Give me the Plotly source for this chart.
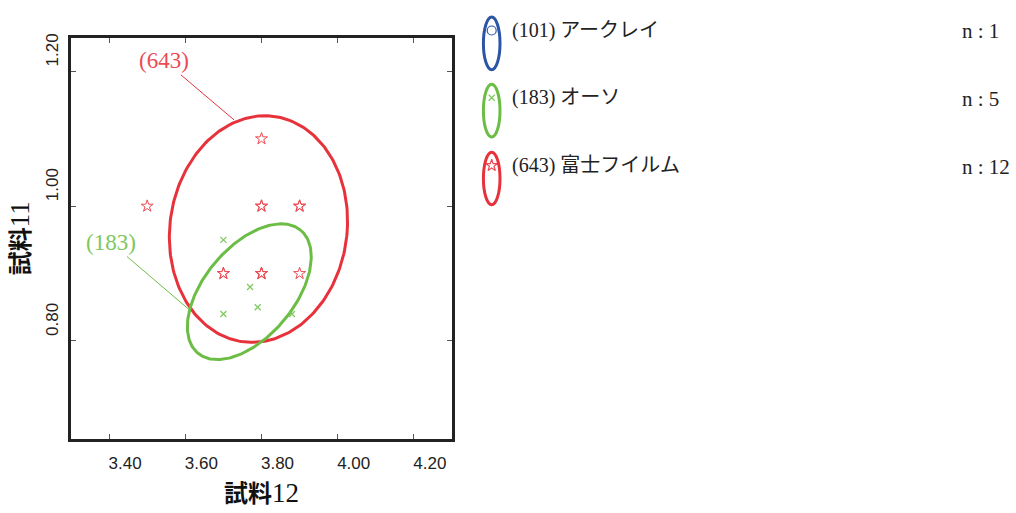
import numpy as np
import plotly.graph_objects as go

# ---- data -------------------------------------------------------------
# sample (183) オーソ : 試料12 vs 試料11
x_183 = [3.70, 3.77, 3.79, 3.70, 3.88]
y_183 = [0.95, 0.88, 0.85, 0.84, 0.84]

# sample (643) 富士フイルム : 12 readings, several coincide
x_643 = [3.50, 3.80, 3.80, 3.90, 3.70, 3.80, 3.90, 3.80, 3.80, 3.70, 3.80, 3.90]
y_643 = [1.00, 1.10, 1.00, 1.00, 0.90, 0.90, 0.90, 1.00, 0.90, 0.90, 0.90, 1.00]

# ellipse: centre, first and second conjugate semi-diameters (data units)
ell_643_center = [3.792, 0.966]
ell_643_a = [0.2338, 0.0071]
ell_643_b = [0.0068, 0.168]

ell_183_center = [3.768, 0.873]
ell_183_a = [0.1349, 0.0913]
ell_183_b = [-0.0908, 0.0426]

# legend rows
legend_names = ["(101) アークレイ", "(183) オーソ", "(643) 富士フイルム"]
legend_counts = [1, 5, 12]

x_ticks = [3.40, 3.60, 3.80, 4.00, 4.20]
y_ticks = [0.80, 1.00, 1.20]

# ---- styling ------------------------------------------------------------
BLUE = "#2b55a6"
GREEN = "#6cbd45"
RED = "#e8323b"
GREEN_PT = "#7cc85c"
RED_PT = "#ec4b55"
legend_colors = [BLUE, GREEN, RED]
legend_symbols = ["circle-open", "x-thin-open", "star-open"]
legend_sizes = [9, 6, 9]

SERIF = "Liberation Serif, Noto Sans CJK JP"
SANS = "Liberation Sans, Arial, sans-serif"

W, H = 1016, 513
# plot frame in pixels
PL, PR, PT, PB = 71, 452, 34, 438


def ellipse_path(center, a, b, n=240):
    t = np.linspace(0, 2 * np.pi, n)
    xs = center[0] + a[0] * np.cos(t) + b[0] * np.sin(t)
    ys = center[1] + a[1] * np.cos(t) + b[1] * np.sin(t)
    return xs, ys


fig = go.Figure()

for center, a, b, col in [
    (ell_643_center, ell_643_a, ell_643_b, RED),
    (ell_183_center, ell_183_a, ell_183_b, GREEN),
]:
    ex, ey = ellipse_path(center, a, b)
    fig.add_trace(go.Scatter(x=ex, y=ey, mode="lines",
                             line=dict(color=col, width=3),
                             hoverinfo="skip", showlegend=False))

fig.add_trace(go.Scatter(x=x_643, y=y_643, mode="markers",
                         marker=dict(symbol="star-open", size=9, color=RED_PT,
                                     line=dict(width=1, color=RED_PT)),
                         showlegend=False))
fig.add_trace(go.Scatter(x=x_183, y=y_183, mode="markers",
                         marker=dict(symbol="x-thin-open", size=6, color=GREEN_PT,
                                     line=dict(width=1.2, color=GREEN_PT)),
                         showlegend=False))

# ---- legend drawn on a full-figure pixel axis ---------------------------
row_y = [39.7, 107.5, 175.8]
icon_x = 491.7
for i, (name, n) in enumerate(zip(legend_names, legend_counts)):
    cy = row_y[i]
    fig.add_shape(type="circle", xref="x2", yref="y2",
                  x0=icon_x - 8.3, x1=icon_x + 8.3, y0=cy - 26.5, y1=cy + 26.5,
                  line=dict(color=legend_colors[i], width=3))
    fig.add_trace(go.Scatter(x=[icon_x], y=[cy - 13], xaxis="x2", yaxis="y2",
                             mode="markers",
                             marker=dict(symbol=legend_symbols[i], size=legend_sizes[i],
                                         color=legend_colors[i] if i == 0 else
                                         (GREEN_PT if i == 1 else RED_PT),
                                         line=dict(width=1.2)),
                             hoverinfo="skip", showlegend=False))
    fig.add_annotation(x=510, y=cy - 13, xref="x2", yref="y2", text=name,
                       showarrow=False, xanchor="left", yanchor="middle",
                       font=dict(family=SERIF, size=20, color="#222"))
    fig.add_annotation(x=960, y=cy - 12, xref="x2", yref="y2",
                       text=f"n : {n}",
                       showarrow=False, xanchor="left", yanchor="middle",
                       font=dict(family=SERIF, size=21, color="#222"))

# ---- ellipse labels with leader lines -----------------------------------
fig.add_annotation(x=3.728, y=1.128, ax=3.545, ay=1.2157, xref="x", yref="y",
                   axref="x", ayref="y", text="(643)", showarrow=True,
                   arrowhead=0, arrowwidth=1, arrowcolor=RED,
                   font=dict(family=SERIF, size=23, color=RED_PT))
fig.add_annotation(x=3.609, y=0.847, ax=3.404, ay=0.946, xref="x", yref="y",
                   axref="x", ayref="y", text="(183)", showarrow=True,
                   arrowhead=0, arrowwidth=1, arrowcolor=GREEN,
                   font=dict(family=SERIF, size=23, color=GREEN_PT))

axis_common = dict(showgrid=False, zeroline=False, showline=True, linewidth=3,
                   linecolor="#222", mirror="ticks", ticks="inside", ticklen=5,
                   tickwidth=1, tickcolor="#555",
                   tickfont=dict(family=SANS, size=17, color="#222"))

title_x = "<b>試料</b><span style='font-size:27px'>12</span>"
title_y = "<b>試料</b><span style='font-size:27px'>11</span>"

fig.update_layout(
    width=W, height=H,
    margin=dict(l=0, r=0, t=0, b=0),
    paper_bgcolor="white", plot_bgcolor="rgba(0,0,0,0)",
    showlegend=False,
    xaxis=dict(axis_common, range=[3.30, 4.30], tickvals=x_ticks,
               ticktext=[f"{v:.2f}" for v in x_ticks],
               domain=[PL / W, PR / W], anchor="y",
               ticklabelshift=16, ticklabelstandoff=7,
               title=dict(text=title_x, standoff=14,
                          font=dict(family=SERIF, size=24, color="#111"))),
    yaxis=dict(axis_common, range=[0.655, 1.25], tickvals=y_ticks,
               ticktext=[f"{v:.2f}" for v in y_ticks],
               domain=[(H - PB) / H, (H - PT) / H], anchor="x",
               tickangle=-90, ticklabelshift=-19, ticklabelstandoff=3,
               title=dict(text=title_y, standoff=7,
                          font=dict(family=SERIF, size=24, color="#111"))),
    xaxis2=dict(range=[0, W], domain=[0, 1], anchor="y2", visible=False,
                fixedrange=True),
    yaxis2=dict(range=[H, 0], domain=[0, 1], anchor="x2", visible=False,
                fixedrange=True),
)

fig.write_html("out.html")
